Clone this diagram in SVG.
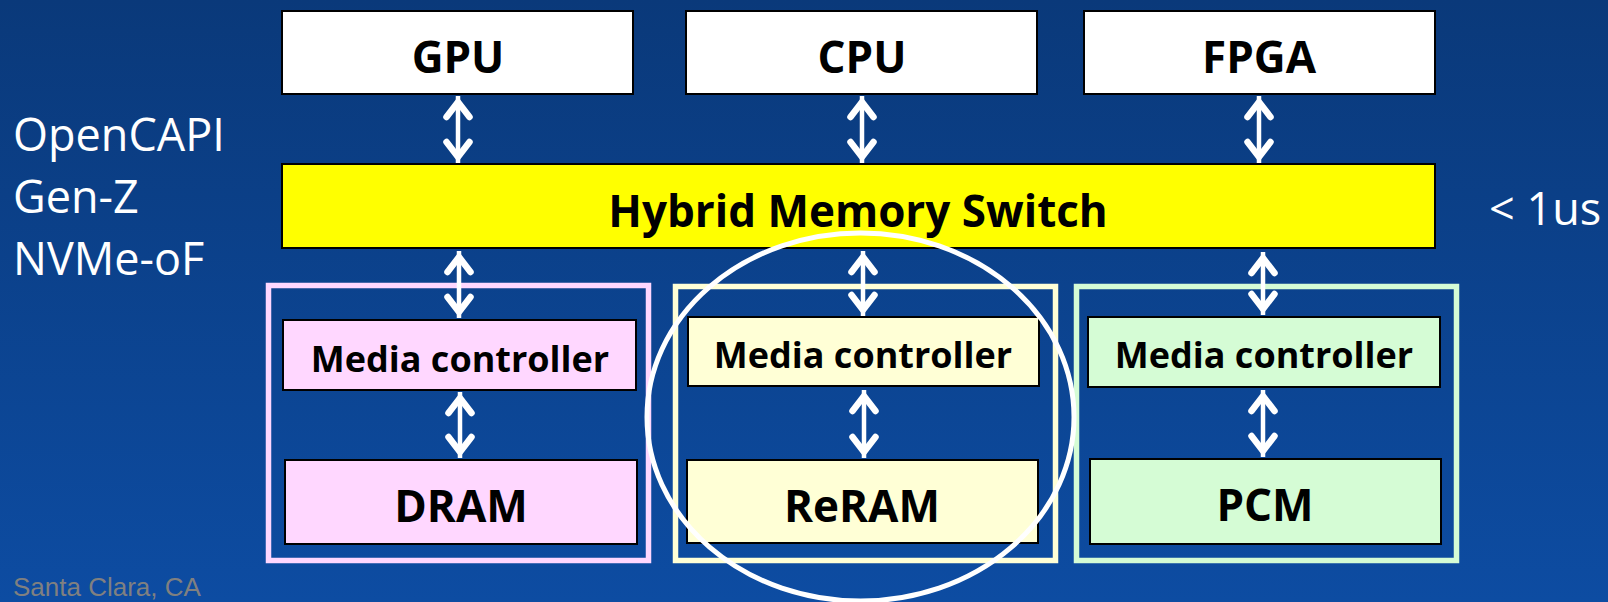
<svg xmlns="http://www.w3.org/2000/svg" width="1608" height="602" viewBox="0 0 1608 602">
<defs>
<linearGradient id="bg" x1="0" y1="0" x2="0" y2="1">
<stop offset="0" stop-color="#0a397a"/>
<stop offset="1" stop-color="#0d4ca2"/>
</linearGradient>
<marker id="ah" markerUnits="userSpaceOnUse" viewBox="-30 -16 34 32" markerWidth="34" markerHeight="32" refX="0" refY="0" orient="auto-start-reverse" overflow="visible">
<path d="M-21,-11.5 L-6,0 L-21,11.5" fill="none" stroke="#ffffff" stroke-width="6.5" stroke-linecap="round" stroke-linejoin="miter"/>
</marker>
<style>
.box{stroke:#000;stroke-width:2}
.white{fill:#ffffff}
.yellow{fill:#ffff00}
.pinkf{fill:#ffd7ff}
.creamf{fill:#ffffd6}
.greenf{fill:#d5fcd5}
.outer{fill:none;stroke-width:5.5}
.lbl{font-family:"Open Sans","Liberation Sans",sans-serif;font-weight:700;fill:#000;text-anchor:middle}
.big{font-size:44px}
.mc{font-size:36px}
.side{font-family:"Open Sans","Liberation Sans",sans-serif;font-size:45px;fill:#ffffff}
.foot{font-family:"Liberation Sans",Arial,sans-serif;font-size:26px;fill:#808080}
.conn line{stroke:#ffffff;stroke-width:4.5;marker-start:url(#ah);marker-end:url(#ah)}
</style>
</defs>
<rect x="0" y="0" width="1608" height="602" fill="url(#bg)"/>

<g id="side-labels">
<text class="side" x="13" y="151">OpenCAPI</text>
<text class="side" x="13" y="213">Gen-Z</text>
<text class="side" x="13" y="275">NVMe-oF</text>
<text class="side" x="1489" y="225">&lt; 1us</text>
<text class="foot" x="13" y="596">Santa Clara, CA</text>
</g>

<g id="gpu">
<rect class="box white" x="282" y="11" width="351" height="83"/>
<text class="lbl big" x="458" y="73">GPU</text>
</g>
<g id="cpu">
<rect class="box white" x="686" y="11" width="351" height="83"/>
<text class="lbl big" x="862" y="73">CPU</text>
</g>
<g id="fpga">
<rect class="box white" x="1084" y="11" width="351" height="83"/>
<text class="lbl big" x="1259" y="73">FPGA</text>
</g>

<g id="switch">
<rect class="box yellow" x="282" y="164" width="1153" height="84"/>
<text class="lbl big" x="858" y="227">Hybrid Memory Switch</text>
</g>

<g id="dram-group">
<rect class="outer" stroke="#ffd7ff" x="268.5" y="285.5" width="380" height="275"/>
</g>
<g id="dram-mc">
<rect class="box pinkf" x="283" y="320" width="353" height="70"/>
<text class="lbl mc" x="460" y="372">Media controller</text>
</g>
<g id="dram">
<rect class="box pinkf" x="285" y="460" width="352" height="84"/>
<text class="lbl big" x="461" y="522">DRAM</text>
</g>

<g id="reram-group">
<rect class="outer" stroke="#ffffd6" x="675.5" y="286.5" width="380" height="274"/>
</g>
<g id="reram-mc">
<rect class="box creamf" x="688" y="317" width="351" height="69"/>
<text class="lbl mc" x="863" y="368">Media controller</text>
</g>
<g id="reram">
<rect class="box creamf" x="687" y="460" width="351" height="83"/>
<text class="lbl big" x="862" y="522">ReRAM</text>
</g>

<g id="pcm-group">
<rect class="outer" stroke="#d5fcd5" x="1076.5" y="286.5" width="380" height="274"/>
</g>
<g id="pcm-mc">
<rect class="box greenf" x="1088" y="317" width="352" height="70"/>
<text class="lbl mc" x="1264" y="368">Media controller</text>
</g>
<g id="pcm">
<rect class="box greenf" x="1090" y="459" width="351" height="85"/>
<text class="lbl big" x="1265" y="521">PCM</text>
</g>

<g id="connectors" class="conn">
<line x1="458" y1="96" x2="458" y2="163"/>
<line x1="862" y1="96" x2="862" y2="163"/>
<line x1="1259" y1="96" x2="1259" y2="163"/>
<line x1="459" y1="251" x2="459" y2="318"/>
<line x1="863" y1="251" x2="863" y2="316"/>
<line x1="1263" y1="252" x2="1263" y2="315"/>
<line x1="460" y1="392" x2="460" y2="458"/>
<line x1="864" y1="390" x2="864" y2="458"/>
<line x1="1263" y1="390" x2="1263" y2="457"/>
</g>

<g id="highlight">
<ellipse cx="860.5" cy="417" rx="213.5" ry="184" fill="none" stroke="#ffffff" stroke-width="5"/>
</g>
</svg>
